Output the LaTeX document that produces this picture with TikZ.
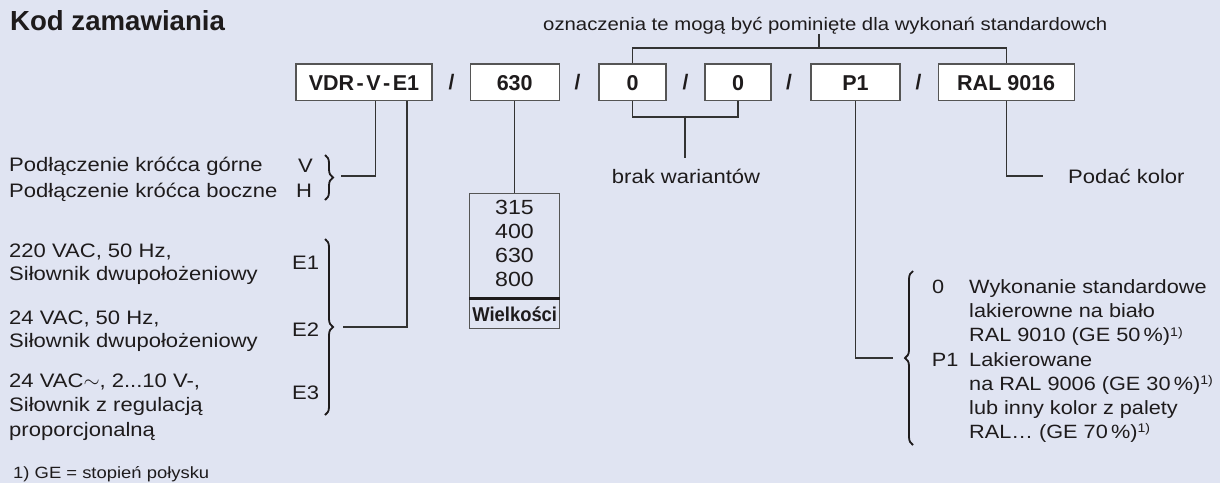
\documentclass[tikz,border=0pt]{standalone}
\usepackage{fontspec}
\setmainfont{Liberation Sans}
\newfontfamily\wide{Liberation Sans}[FakeStretch=1.13]
\newfontfamily\narrowb{Liberation Sans Bold}[FakeStretch=0.92]
\usetikzlibrary{decorations.pathreplacing}
\definecolor{bg}{HTML}{E0E4F2}
\definecolor{ink}{HTML}{1E1B1C}
\definecolor{ln}{HTML}{333333}
\definecolor{frame}{HTML}{555555}
\newcommand\reg{\wide\fontsize{19.5}{24}\selectfont}
\newcommand\regr{\wide\fontsize{19.2}{24}\selectfont}
\newcommand\supone{\raisebox{0.55ex}{\fontsize{12.5}{12}\selectfont 1)}}
\begin{document}
\begin{tikzpicture}[x=1pt,y=-1pt,
  every node/.style={inner sep=0pt, text=ink},
  txt/.style={anchor=base west, font=\reg},
  rtxt/.style={anchor=base west, font=\regr},
  ctxt/.style={anchor=base, font=\reg},
  codebox/.style={draw=frame, line width=1.3pt, fill=white, minimum height=36.7pt, text height=15.4pt, text depth=0pt, font=\bfseries\fontsize{21.5}{22}\selectfont},
  slash/.style={anchor=base, font=\bfseries\fontsize{21}{22}\selectfont},
  conn/.style={draw=ln, line width=1.2pt},
  brc/.style={draw=ink, line width=1.8pt, decorate, decoration={brace, amplitude=8pt}},
]
\fill[bg] (0,0) rectangle (1220,483);
\useasboundingbox (0,0) rectangle (1220,483);

% title and note
\node[anchor=base west, font=\bfseries\fontsize{27.6}{30}\selectfont] (title) at (10,30) {Kod zamawiania};
\node[txt, font=\wide\fontsize{18}{20}\selectfont] (note) at (543,30) {oznaczenia te mogą być pominięte dla wykonań standardowch};

% code boxes
\node[codebox, minimum width=136pt] (vdr) at (364,82.3) {VDR\hspace{2.5pt}-\hspace{2.5pt}V\hspace{2.5pt}-\hspace{2.5pt}E1};
\node[codebox, minimum width=89pt] (b630) at (514.7,82.3) {630};
\node[codebox, minimum width=67pt] (b0a) at (632.5,82.3) {0};
\node[codebox, minimum width=66pt] (b0b) at (738,82.3) {0};
\node[codebox, minimum width=89pt] (bp1) at (855.5,82.3) {P1};
\node[codebox, minimum width=136pt] (bral) at (1006.2,82.3) {RAL 9016};

\node[slash] (s1) at (451.5,89) {/};
\node[slash] (s2) at (577.5,89) {/};
\node[slash] (s3) at (685.5,89) {/};
\node[slash] (s4) at (789,89) {/};
\node[slash] (s5) at (918.5,89) {/};

% top bracket
\coordinate (tick) at (819,48);
\draw[conn] (b0a.north) |- (tick) -| (bral.north);
\draw[conn] (note.south -| tick) -- (tick);

% left side
\node[txt] (vt) at (9,171.7) {Podłączenie króćca górne};
\node[txt] (ht) at (9,197.7) {Podłączenie króćca boczne};
\node[txt] (vl) at (298,172.7) {V};
\node[txt] (hl) at (296,197.7) {H};
\draw[brc] (325,155) -- (325,200);

\node[txt] (e1a) at (9,257.3) {220 VAC, 50 Hz,};
\node[txt] (e1b) at (9,280) {Siłownik dwupołożeniowy};
\node[txt] (e2a) at (9,324) {24 VAC, 50 Hz,};
\node[txt] (e2b) at (9,347) {Siłownik dwupołożeniowy};
\node[txt] (e3a) at (9,387) {24 VAC$\sim$, 2...10 V-,};
\node[txt] (e3b) at (9,411.7) {Siłownik z regulacją};
\node[txt] (e3c) at (9,436) {proporcjonalną};
\node[txt] (e1) at (292,269) {E1};
\node[txt] (e2) at (292,336) {E2};
\node[txt] (e3) at (292,399) {E3};
\draw[brc] (325,239) -- (325,415);

\path (vdr.south) ++(11.7,0) coordinate (vtap) ++(31.3,0) coordinate (etap);
\coordinate (vhtip) at (341,176);
\coordinate (etip) at (343,327);
\draw[conn] (vtap) |- (vhtip);
\draw[conn] (etap) |- (etip);

\node[txt, font=\wide\fontsize{16.3}{18}\selectfont] (fn) at (13,478) {1) GE = stopień połysku};

% sizes
\node[draw=frame, line width=1.2pt, minimum width=90pt, minimum height=104pt, anchor=north] (wtop) at (514.7,193) {};
\node[draw=frame, line width=1.2pt, minimum width=90pt, minimum height=30pt, anchor=north, font=\narrowb\fontsize{20}{20}\selectfont] (wbot) at (wtop.south) {Wielkości};
\draw[ink, line width=3pt] (wtop.south west) -- (wtop.south east);
\draw[conn] (b630.south) -- (wtop.north);
\node[ctxt, font=\wide\fontsize{20.5}{22}\selectfont] (n315) at (514.5,214.3) {315};
\node[ctxt, font=\wide\fontsize{20.5}{22}\selectfont] (n400) at (514.5,238.5) {400};
\node[ctxt, font=\wide\fontsize{20.5}{22}\selectfont] (n630) at (514.5,262.7) {630};
\node[ctxt, font=\wide\fontsize{20.5}{22}\selectfont] (n800) at (514.5,286.9) {800};

% variants
\draw[conn] (b0a.south) -- ++(0,15.7) -| (b0b.south);
\coordinate (midb) at (685,115.7);
\node[ctxt] (brak) at (686,183) {brak wariantów};
\path (brak.north) ++(0,-10) coordinate (brakTop);
\draw[conn] (midb) -- (midb |- brakTop);

% colour
\node[txt] (kolor) at (1068,183) {Podać kolor};
\draw[conn] (bral.south) |- ([xshift=-25pt]kolor.west);

% P1
\coordinate (ptip) at (893,358);
\draw[conn] (bp1.south) |- (ptip);
\draw[brc] (913,445) -- (913,271);
\node[rtxt] (r0) at (932,293.3) {0};
\node[rtxt] (r1) at (969,293.3) {Wykonanie standardowe};
\node[rtxt] (r2) at (969,317.5) {lakierowne na biało};
\node[rtxt] (r3) at (969,341.7) {RAL 9010 (GE 50\,\%)\supone};
\node[rtxt] (rp) at (931.7,366) {P1};
\node[rtxt] (r4) at (969,366) {Lakierowane};
\node[rtxt] (r5) at (969,390) {na RAL 9006 (GE 30\,\%)\supone};
\node[rtxt] (r6) at (969,414) {lub inny kolor z palety};
\node[rtxt] (r7) at (969,438) {RAL… (GE 70\,\%)\supone};
\end{tikzpicture}
\end{document}
